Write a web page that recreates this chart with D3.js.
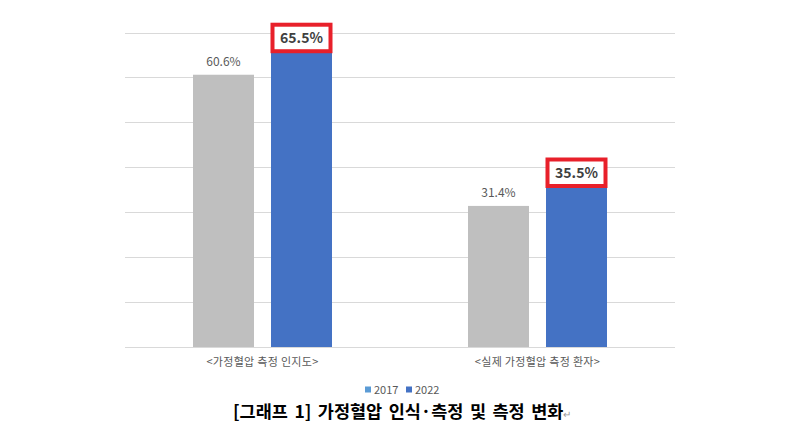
<!DOCTYPE html>
<html>
<head>
<meta charset="utf-8">
<script src="https://d3js.org/d3.v7.min.js"></script>
<style>
  body { margin: 0; background: #fff; }
  text { font-family: "Noto Sans CJK KR", "Noto Sans", sans-serif; }
</style>
</head>
<body>
<svg width="800" height="432"></svg>
<script>
var categories = ["<가정혈압 측정 인지도>", "<실제 가정혈압 측정 환자>"];
var years = ["2017", "2022"];
var values2017 = [60.6, 31.4];
var values2022 = [65.5, 35.5];
var legendColors = ["#5b9bd5", "#4472c4"];
var barColors = ["#bfbfbf", "#4472c4"];
var yTicks = [0, 10, 20, 30, 40, 50, 60, 70];

var svg = d3.select("svg");

var x = d3.scaleBand().domain(categories).range([125, 675]);
var inner = d3.scaleBand().domain(years).range([-69.5, 69.5]).paddingInner(0.218);
var y = d3.scaleLinear().domain([0, 70]).range([347, 32.5]);

// gridlines
svg.append("g").selectAll("line")
  .data(yTicks)
  .enter().append("line")
  .attr("x1", 125).attr("x2", 675)
  .attr("y1", function(d) { return Math.round(y(d)) + 0.5; })
  .attr("y2", function(d) { return Math.round(y(d)) + 0.5; })
  .attr("stroke", "#d9d9d9")
  .attr("stroke-width", 1);

var rows = categories.map(function(c, i) {
  return [{cat: c, year: "2017", v: values2017[i], k: 0},
          {cat: c, year: "2022", v: values2022[i], k: 1}];
});
var bars = [].concat.apply([], rows);

function bx(d) { return x(d.cat) + x.bandwidth() / 2 + inner(d.year); }

svg.append("g").selectAll("rect")
  .data(bars)
  .enter().append("rect")
  .attr("x", bx)
  .attr("y", function(d) { return y(d.v); })
  .attr("width", inner.bandwidth())
  .attr("height", function(d) { return y(0) - y(d.v); })
  .attr("fill", function(d) { return barColors[d.k]; });

// labels
svg.append("g").selectAll("text")
  .data(bars.filter(function(d) { return d.k === 0; }))
  .enter().append("text")
  .attr("x", function(d) { return bx(d) + inner.bandwidth() / 2; })
  .attr("y", function(d) { return y(d.v) - 9; })
  .attr("text-anchor", "middle")
  .attr("font-size", 12)
  .attr("fill", "#595959")
  .text(function(d) { return d.v.toFixed(1) + "%"; });

var hl = svg.append("g").selectAll("g")
  .data(bars.filter(function(d) { return d.k === 1; }))
  .enter().append("g");
hl.append("rect")
  .attr("x", function(d) { return bx(d) + 1.5; })
  .attr("y", function(d) { return y(d.v) - 28; })
  .attr("width", inner.bandwidth() - 3)
  .attr("height", 26.5)
  .attr("fill", "#fff")
  .attr("stroke", "#e8202a")
  .attr("stroke-width", 4);
hl.append("text")
  .attr("x", function(d) { return bx(d) + inner.bandwidth() / 2; })
  .attr("y", function(d) { return y(d.v) - 9.5; })
  .attr("text-anchor", "middle")
  .attr("font-size", 14)
  .attr("font-weight", "bold")
  .attr("fill", "#404040")
  .text(function(d) { return d.v.toFixed(1) + "%"; });

// category axis labels
svg.append("g").selectAll("text")
  .data(categories)
  .enter().append("text")
  .attr("x", function(d) { return x(d) + x.bandwidth() / 2; })
  .attr("y", 366)
  .attr("text-anchor", "middle")
  .attr("font-size", 11)
  .attr("letter-spacing", 0.3)
  .attr("fill", "#595959")
  .text(function(d) { return d; });

// legend
var lg = svg.append("g").attr("transform", "translate(365,385)");
var items = lg.selectAll("g").data(years).enter().append("g")
  .attr("transform", function(d, i) { return "translate(" + (i * 41) + ",0)"; });
items.append("rect").attr("width", 6).attr("height", 6).attr("y", 1.5)
  .attr("fill", function(d, i) { return legendColors[i]; });
items.append("text").attr("x", 9).attr("y", 9)
  .attr("font-size", 11).attr("fill", "#595959")
  .text(function(d) { return d; });

// caption
var cap = svg.append("text")
  .attr("x", 233).attr("y", 418)
  .attr("font-size", 17.5)
  .attr("font-weight", "bold")
  .attr("word-spacing", 2.5)
  .attr("fill", "#000");
cap.append("tspan").text("[그래프 1] 가정혈압 인식·측정 및 측정 변화");
cap.append("tspan").attr("font-size", 10).attr("font-weight", "normal").attr("fill", "#999").text("↵");
</script>
</body>
</html>
